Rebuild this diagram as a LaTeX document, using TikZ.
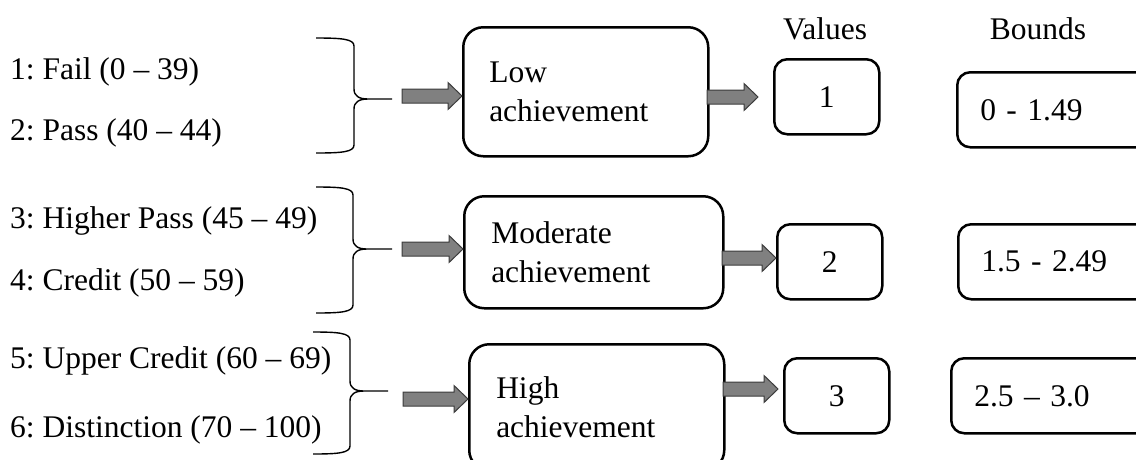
\documentclass[tikz,border=0pt]{standalone}
\usepackage{fontspec}
\setmainfont{Liberation Serif}
\usetikzlibrary{calc}
\frenchspacing

\definecolor{arrowgray}{HTML}{808080}
\definecolor{arrowedge}{HTML}{3C3C3C}

% curly brace: left x, spine x, top y, tip y, bottom y, tip end x
\newcommand\gradebrace[6]{%
  \draw[brace] (#1,#3) .. controls (#2-12,#3) and (#2,#3+1) .. (#2,#3+8)
    -- (#2,#4-10) .. controls (#2,#4-3) and (#2+5,#4) .. (#2+14,#4) -- (#6,#4)
    (#2+14,#4) .. controls (#2+5,#4) and (#2,#4+3) .. (#2,#4+10)
    -- (#2,#5-8) .. controls (#2,#5-1) and (#2-12,#5) .. (#1,#5);}

% block arrow from #2 to the x of #3, stopping #1 short
\newcommand\blockarrow[3][0]{%
  \draw[fatarrow] let \p1=(#2), \p2=(#3) in
    (\x1,\y1+7pt) -- (\x2-#1pt-14pt,\y1+7pt) -- (\x2-#1pt-14pt,\y1+13.5pt)
    -- (\x2-#1pt,\y1) -- (\x2-#1pt-14pt,\y1-13.5pt) -- (\x2-#1pt-14pt,\y1-7pt)
    -- (\x1,\y1-7pt) -- cycle;}

\begin{document}
\begin{tikzpicture}[x=1pt,y=-1pt,
  every node/.style={font=\fontsize{31.5}{39}\selectfont},
  grade/.style={anchor=base west,inner sep=0pt},
  catbox/.style={draw,line width=2.5pt,rounded corners=20pt,align=left,
    anchor=north west,inner xsep=26pt,inner ysep=0pt},
  valbox/.style={draw,line width=2.5pt,rounded corners=13pt,anchor=north west,
    minimum width=105pt,minimum height=75pt,inner sep=0pt},
  bndbox/.style={draw,line width=2.5pt,rounded corners=13pt,anchor=north west,
    minimum height=75pt,text width=190pt,align=left,inner xsep=23pt,inner ysep=0pt},
  brace/.style={line width=1.4pt},
  fatarrow/.style={draw=arrowedge,line width=1pt,fill=arrowgray}
]
\useasboundingbox (0,0) rectangle (1136,459);
\clip (0,0) rectangle (1136,459);

% grades
\node[grade] (g1) at (10,79) {1: Fail (0 – 39)};
\node[grade] (g2) at (10,140) {2: Pass (40 – 44)};
\node[grade] (g3) at (10,228) {3: Higher Pass (45 – 49)};
\node[grade] (g4) at (10,290) {4: Credit (50 – 59)};
\node[grade] (g5) at (10,368) {5: Upper Credit (60 – 69)};
\node[grade] (g6) at (10,437) {6: Distinction (70 – 100)};

% braces
\gradebrace{316}{354}{38}{99}{153}{392}
\gradebrace{316}{353}{187}{249}{313}{392}
\gradebrace{313}{350}{332}{391}{454}{388}

% categories
\node[catbox,text width=193pt,minimum width=245pt,minimum height=129pt]
  (low) at (462,26) {Low\\achievement};
\node[catbox,inner xsep=27pt,text width=205pt,minimum width=259pt,minimum height=112pt]
  (mod) at (463,195) {Moderate\\achievement};
\node[catbox,inner xsep=27pt,text width=201pt,minimum width=255pt,minimum height=126pt]
  (high) at (468,343) {High\\achievement};

% headings
\node[anchor=base] (valhead) at (825,39) {Values};
\node[anchor=base] (bndhead) at (1038,39) {Bounds};

% values
\node[valbox] (v1) at (773,58) {1};
\node[valbox] (v2) at (776,223) {2};
\node[valbox] (v3) at (783,357) {3};

% bounds
\node[bndbox] (b1) at (956,71) {0 - 1.49};
\node[bndbox] (b2) at (957,223) {1.5 - 2.49};
\node[bndbox] (b3) at (950,357) {2.5 – 3.0};

% arrows
\coordinate (in1) at (402,96);
\coordinate (in2) at (402,249);
\coordinate (in3) at (403,399);
\coordinate (out1) at (707,97);
\coordinate (out2) at (722,258);
\coordinate (out3) at (723,389);
\blockarrow{in1}{low.west}
\blockarrow{in2}{mod.west}
\blockarrow{in3}{high.west}
\blockarrow[15]{out1}{v1.west}
\blockarrow{out2}{v2.west}
\blockarrow[5]{out3}{v3.west}

\end{tikzpicture}
\end{document}
